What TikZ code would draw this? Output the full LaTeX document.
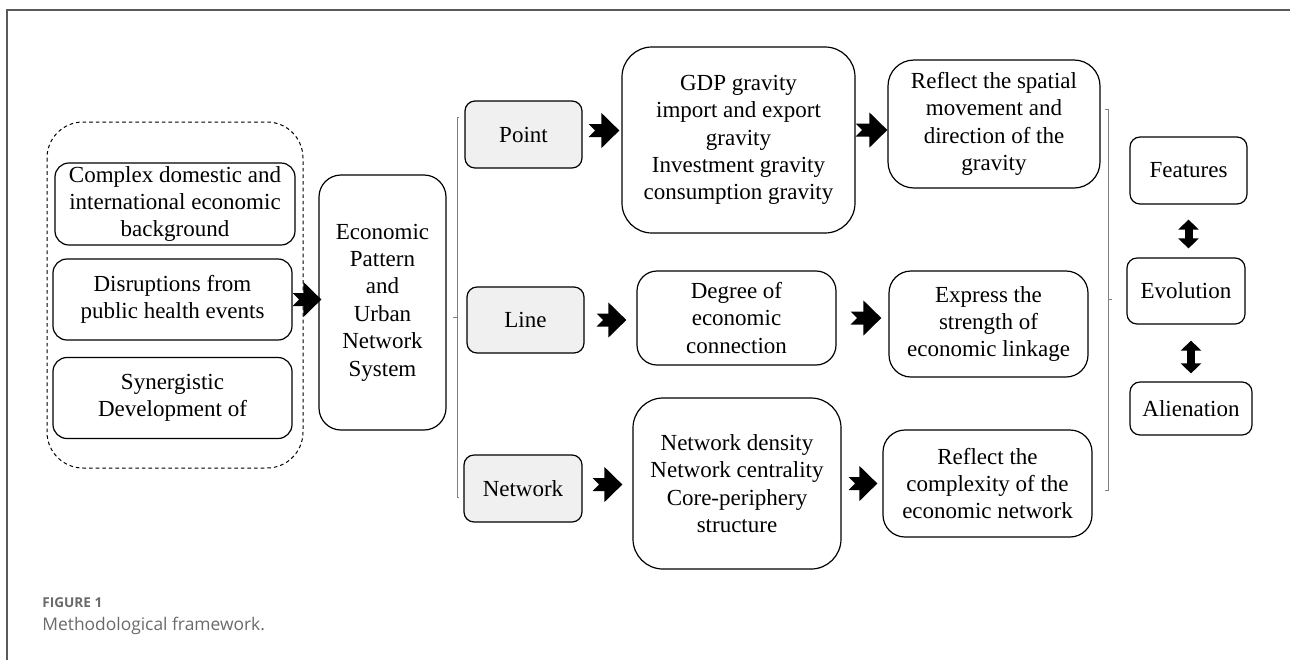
\documentclass[tikz,border=0pt]{standalone}
\usepackage{fontspec}
\setmainfont{Liberation Serif}
\newfontfamily\diagfont{Liberation Serif}
\newfontfamily\capfont{Open Sans}
\usetikzlibrary{arrows.meta}
\definecolor{framegray}{HTML}{5A5A5A}
\definecolor{capgray}{HTML}{6A6A6A}
\definecolor{dimfill}{HTML}{F0F0F0}

\begin{document}
\begin{tikzpicture}[x=0.5pt, y=-0.5pt,
		font=\diagfont\fontsize{11.5}{13.7}\selectfont,
		stagebox/.style={draw, line width=0.6pt, align=center, inner sep=0pt, rounded corners=#1},
		stagebox/.default=5pt,
		dimbox/.style={stagebox, fill=dimfill},
		blockarrow/.style={line width=6.5pt, {Triangle Cap[reversed]}-{Triangle[length=9pt,width=17pt]}},
		twoway/.style={line width=4pt, {Triangle[length=5pt,width=10pt]}-{Triangle[length=5pt,width=10pt]}},
		bracket/.style={draw=gray, line width=0.4pt}]
				\useasboundingbox (0,0) rectangle (1290,660);
				\draw [framegray, line width=1pt] (1290,10) -- (7,10) -- (7,660);
				
				\node (context) [stagebox=7pt, minimum width=120pt, minimum height=41pt] at (175,204) {Complex domestic and\\international economic\\background};
				\node (health) [stagebox=7pt, minimum width=119.5pt, minimum height=40.5pt] at (172.5,299.5) {Disruptions from\\public health events};
				\node (synergy) [stagebox=7pt, minimum width=119.5pt, minimum height=40.5pt] at (172.5,398) {Synergistic\\Development of};
				\draw [dash pattern=on 1.8pt off 1.5pt, line width=0.5pt, rounded corners=18pt] (47,122) rectangle (303,468);
				
				\node (system) [stagebox=11pt, minimum width=63.5pt, minimum height=127.5pt] at (382.5,302.5) {Economic\\Pattern\\and\\Urban\\Network\\System};
				
				\node (point) [dimbox, minimum width=58.5pt, minimum height=33.5pt] at (523.5,134.5) {Point};
				\node (line) [dimbox, minimum width=58.5pt, minimum height=33pt] at (525.5,320) {Line};
				\node (network) [dimbox, minimum width=59pt, minimum height=33.5pt] at (523,488.5) {Network};
				
				\node (gravity) [stagebox=15pt, minimum width=116.5pt, minimum height=93pt] at (738.5,140) {GDP gravity\\import and export\\gravity\\Investment gravity\\consumption gravity};
				\node (degree) [stagebox=10pt, minimum width=99.5pt, minimum height=47pt] at (736.5,318) {Degree of\\economic\\connection};
				\node (density) [stagebox=15pt, minimum width=104pt, minimum height=85.5pt] at (737,483.5) {Network density\\Network centrality\\Core-periphery\\structure};
				
				\node (spatial) [stagebox=13pt, minimum width=106pt, minimum height=64pt] at (994,124) {Reflect the spatial\\movement and\\direction of the\\gravity};
				\node (strength) [stagebox=11pt, minimum width=99.5pt, minimum height=53pt] at (988.5,324) {Express the\\strength of\\economic linkage};
				\node (complexity) [stagebox=11pt, minimum width=104.5pt, minimum height=53.5pt] at (987.5,483.5) {Reflect the\\complexity of the\\economic network};
				
				\node (features) [stagebox, minimum width=58.5pt, minimum height=33.5pt] at (1188.5,170.5) {Features};
				\node (evolution) [stagebox, minimum width=59pt, minimum height=33pt] at (1186,291) {Evolution};
				\node (alienation) [stagebox, minimum width=61pt, minimum height=26.5pt] at (1191,408.5) {Alienation};
				
				\draw [bracket] (459,117) -- (457,117) -- (457,497) -- (459,497);
				\draw [bracket] (457,317) -- (453,317);
				\draw [bracket] (1105,109) -- (1108,109) -- (1108,490) -- (1105,490);
				\draw [bracket] (1108,299) -- (1112,299);
				
				\draw [blockarrow, shorten >=-1.5pt] (health.east) -- (health.east -| system.west);
				\draw [blockarrow, shorten <=3pt, shorten >=1pt] ([yshift=2pt]point.east) -- ([yshift=2pt]point.east -| gravity.west);
				\draw [blockarrow] ([yshift=5pt]gravity.east) -- ([yshift=5pt]gravity.east -| spatial.west);
				\draw [blockarrow, shorten <=6pt, shorten >=5pt] (line.east) -- (line.east -| degree.west);
				\draw [blockarrow, shorten <=7pt, shorten >=3.5pt] (degree.east) -- (degree.east -| strength.west);
				\draw [blockarrow, shorten <=5pt, shorten >=5pt] ([yshift=2pt]network.east) -- ([yshift=2pt]network.east -| density.west);
				\draw [blockarrow, shorten <=3.5pt, shorten >=2.5pt] (density.east) -- (density.east -| complexity.west);
				
				\draw [twoway, shorten <=7.5pt, shorten >=4.5pt] (features.south) -- (features.south |- evolution.north);
				\draw [twoway, shorten <=8pt, shorten >=4pt] (alienation.north |- evolution.south) -- (alienation.north);
				
				\node (figno) [anchor=west, inner sep=0pt, text=capgray, font=\capfont\bfseries\fontsize{6.8}{8}\selectfont] at (42,603) {FIGURE 1};
				\node (figcaption) [anchor=west, inner sep=0pt, text=capgray, font=\capfont\fontsize{8.7}{10}\selectfont] at (42,626) {Methodological framework.};
			\end{tikzpicture}
\end{document}
